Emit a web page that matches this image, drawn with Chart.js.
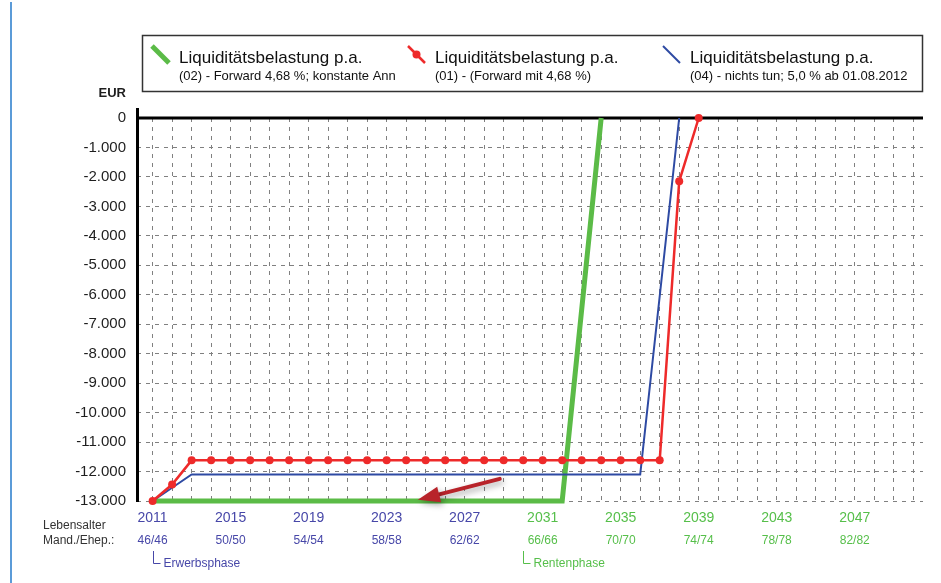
<!DOCTYPE html>
<html>
<head>
<meta charset="utf-8">
<script src="https://cdn.jsdelivr.net/npm/chart.js@4"></script>
<style>
    html, body { margin: 0; padding: 0; background: #fff; }
    #wrap { position: relative; width: 941px; height: 583px; }
    #edge { position: absolute; left: 10px; top: 2px; width: 2px; height: 581px; background: #5b9bd8; }
    canvas { position: absolute; left: 0; top: 0; }
</style>
</head>
<body>
<div id="wrap">
    <canvas id="chart" width="941" height="583"></canvas>
    <div id="edge"></div>
</div>
<script>
const years = [2011, 2012, 2013, 2014, 2015, 2016, 2017, 2018, 2019, 2020,
    2021, 2022, 2023, 2024, 2025, 2026, 2027, 2028, 2029, 2030,
    2031, 2032, 2033, 2034, 2035, 2036, 2037, 2038, 2039];

// (02) Forward 4,68 %; konstante Ann
const greenValues = [-13000, -13000, -13000, -13000, -13000, -13000, -13000, -13000, -13000, -13000,
    -13000, -13000, -13000, -13000, -13000, -13000, -13000, -13000, -13000, -13000,
    -13000, -13000, null, 0, null, null, null, null, null];

// (01) Forward mit 4,68 %
const redValues = [-13000, -12440, -11620, -11620, -11620, -11620, -11620, -11620, -11620, -11620,
    -11620, -11620, -11620, -11620, -11620, -11620, -11620, -11620, -11620, -11620,
    -11620, -11620, -11620, -11620, -11620, -11620, -11620, -2150, 0];

// (04) nichts tun; 5,0 % ab 01.08.2012
const blueValues = [-13000, -12550, -12100, -12100, -12100, -12100, -12100, -12100, -12100, -12100,
    -12100, -12100, -12100, -12100, -12100, -12100, -12100, -12100, -12100, -12100,
    -12100, -12100, -12100, -12100, -12100, -12100, null, 0, null];

const tickYears = [2011, 2015, 2019, 2023, 2027, 2031, 2035, 2039, 2043, 2047];
const ageLabels = ["46/46", "50/50", "54/54", "58/58", "62/62", "66/66", "70/70", "74/74", "78/78", "82/82"];
const rentStartYear = 2030;
const phaseYears = [2011, 2030];
const phaseNames = ["Erwerbsphase", "Rentenphase"];

const seriesTitles = ["Liquiditätsbelastung p.a.", "Liquiditätsbelastung p.a.", "Liquiditätsbelastung p.a."];
const seriesNotes = ["(02) - Forward 4,68 %; konstante Ann", "(01) - (Forward mit 4,68 %)", "(04) - nichts tun; 5,0 % ab 01.08.2012"];

// arrow annotation, in data units: [year, EUR]
const arrowTail = [2028.8, -12250];
const arrowHead = [2024.6, -12960];

const GREEN = "#5bbb47";
const RED = "#ee2a2a";
const BLUE = "#2e4aa3";
const TEXT_BLUE = "#4747a8";
const TEXT_GREEN = "#56bf4a";
const FONT = "'Liberation Sans', Arial, sans-serif";

function points(values) {
    return years.map((yr, i) => ({ x: yr, y: values[i] }));
}

function formatEur(v) {
    const s = String(Math.abs(v)).replace(/\B(?=(\d{3})+(?!\d))/g, ".");
    return v < 0 ? "-" + s : s;
}

const decorations = {
    id: "decorations",
    beforeDatasetsDraw(chart) {
        const { ctx, chartArea: a, scales: { y } } = chart;
        const y0 = y.getPixelForValue(0);
        ctx.save();
        ctx.strokeStyle = "#000";
        ctx.lineWidth = 3;
        ctx.beginPath();
        ctx.moveTo(a.left, y0);
        ctx.lineTo(a.right, y0);
        ctx.moveTo(a.left + 0.5, a.top - 10);
        ctx.lineTo(a.left + 0.5, a.bottom + 1);
        ctx.stroke();
        ctx.restore();
    },
    afterDatasetsDraw(chart) {
        const { ctx, scales: { x, y } } = chart;
        const x1 = x.getPixelForValue(arrowTail[0]);
        const y1 = y.getPixelForValue(arrowTail[1]);
        const x2 = x.getPixelForValue(arrowHead[0]);
        const y2 = y.getPixelForValue(arrowHead[1]);
        const ang = Math.atan2(y2 - y1, x2 - x1);
        const headLen = 22;
        const headHalf = 8;
        const bx = x2 - headLen * Math.cos(ang);
        const by = y2 - headLen * Math.sin(ang);
        ctx.save();
        ctx.shadowColor = "rgba(0,0,0,0.35)";
        ctx.shadowBlur = 6;
        ctx.shadowOffsetX = 2;
        ctx.shadowOffsetY = 3;
        ctx.strokeStyle = "#b8232a";
        ctx.fillStyle = "#b8232a";
        ctx.lineWidth = 4;
        ctx.lineCap = "round";
        ctx.beginPath();
        ctx.moveTo(x1, y1);
        ctx.lineTo(bx, by);
        ctx.stroke();
        ctx.beginPath();
        ctx.moveTo(x2, y2);
        ctx.lineTo(bx + headHalf * Math.sin(ang), by - headHalf * Math.cos(ang));
        ctx.lineTo(bx - headHalf * Math.sin(ang), by + headHalf * Math.cos(ang));
        ctx.closePath();
        ctx.fill();
        ctx.restore();
    },
    afterDraw(chart) {
        const { ctx, scales: { x } } = chart;
        ctx.save();

        // legend box
        ctx.strokeStyle = "#333";
        ctx.lineWidth = 1.5;
        ctx.strokeRect(142.5, 35.5, 780, 56);

        const legendX = [152, 408, 663];
        const colors = [GREEN, RED, BLUE];
        const widths = [5, 2.5, 2];
        legendX.forEach((lx, i) => {
            ctx.strokeStyle = colors[i];
            ctx.lineWidth = widths[i];
            ctx.beginPath();
            ctx.moveTo(lx, 46);
            ctx.lineTo(lx + 17, 63);
            ctx.stroke();
            if (i === 1) {
                ctx.fillStyle = RED;
                ctx.beginPath();
                ctx.arc(lx + 8.5, 54.5, 4, 0, Math.PI * 2);
                ctx.fill();
            }
            ctx.fillStyle = "#111";
            ctx.textAlign = "left";
            ctx.textBaseline = "alphabetic";
            ctx.font = "17px " + FONT;
            ctx.fillText(seriesTitles[i], lx + 27, 63);
            ctx.font = "13px " + FONT;
            ctx.fillText(seriesNotes[i], lx + 27, 80);
        });

        // unit
        ctx.fillStyle = "#1e1e1e";
        ctx.font = "bold 13px " + FONT;
        ctx.textAlign = "right";
        ctx.textBaseline = "middle";
        ctx.fillText("EUR", 126, 93);

        // row captions
        ctx.fillStyle = "#333";
        ctx.font = "12px " + FONT;
        ctx.textAlign = "left";
        ctx.fillText("Lebensalter", 43, 526);
        ctx.fillText("Mand./Ehep.:", 43, 541);

        // ages
        ctx.textAlign = "center";
        tickYears.forEach((yr, i) => {
            ctx.fillStyle = yr >= rentStartYear ? TEXT_GREEN : TEXT_BLUE;
            ctx.fillText(ageLabels[i], x.getPixelForValue(yr), 541);
        });

        // phases
        phaseYears.forEach((yr, i) => {
            const px = Math.round(x.getPixelForValue(yr)) + 0.5;
            const c = yr >= rentStartYear ? TEXT_GREEN : TEXT_BLUE;
            ctx.strokeStyle = c;
            ctx.lineWidth = 1;
            ctx.beginPath();
            ctx.moveTo(px, 551);
            ctx.lineTo(px, 563.5);
            ctx.lineTo(px + 7, 563.5);
            ctx.stroke();
            ctx.fillStyle = c;
            ctx.textAlign = "left";
            ctx.fillText(phaseNames[i], px + 10, 564);
        });

        ctx.restore();
    },
};

new Chart(document.getElementById("chart"), {
    type: "line",
    data: {
        datasets: [
            {
                label: seriesTitles[1],
                data: points(redValues),
                borderColor: RED,
                backgroundColor: RED,
                borderWidth: 2.5,
                pointRadius: 4,
                pointBorderWidth: 0,
                pointBackgroundColor: RED,
                spanGaps: true,
                clip: 8,
                order: 1,
            },
            {
                label: seriesTitles[2],
                data: points(blueValues),
                borderColor: BLUE,
                borderWidth: 2,
                pointRadius: 0,
                spanGaps: true,
                clip: 8,
                order: 2,
            },
            {
                label: seriesTitles[0],
                data: points(greenValues),
                borderColor: GREEN,
                borderWidth: 5,
                pointRadius: 0,
                spanGaps: true,
                clip: 8,
                order: 3,
            },
        ],
    },
    options: {
        responsive: false,
        animation: false,
        layout: { padding: { top: 118, right: 18, bottom: 0, left: 0 } },
        plugins: {
            legend: { display: false },
            tooltip: { enabled: false },
        },
        scales: {
            x: {
                type: "linear",
                min: 2010.2,
                max: 2050.5,
                afterFit(scale) { scale.height = 82; },
                border: { display: false, dash: [4, 5] },
                grid: { color: "#808080", lineWidth: 1, drawTicks: false },
                ticks: {
                    stepSize: 1,
                    includeBounds: false,
                    autoSkip: false,
                    maxRotation: 0,
                    padding: 9,
                    font: { family: FONT, size: 14 },
                    color: (c) => (c.tick && c.tick.value >= rentStartYear ? TEXT_GREEN : TEXT_BLUE),
                    callback: (v) => (tickYears.includes(v) ? String(v) : ""),
                },
            },
            y: {
                min: -13000,
                max: 0,
                afterFit(scale) { scale.width = 137; },
                border: { display: false, dash: [4, 5] },
                grid: { color: "#808080", lineWidth: 1, drawTicks: false },
                ticks: {
                    stepSize: 1000,
                    padding: 11,
                    font: { family: FONT, size: 15 },
                    color: "#1e1e1e",
                    callback: (v) => formatEur(v),
                },
            },
        },
    },
    plugins: [decorations],
});
</script>
</body>
</html>
